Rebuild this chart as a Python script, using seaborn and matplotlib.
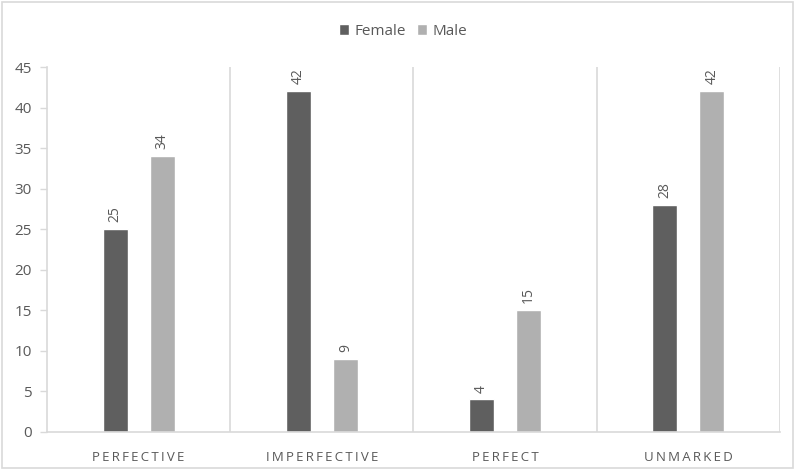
import matplotlib
matplotlib.use("Agg")
import matplotlib.pyplot as plt
from matplotlib.patches import Rectangle
import seaborn as sns
import pandas as pd

categories = ["PERFECTIVE", "IMPERFECTIVE", "PERFECT", "UNMARKED"]
female = [25, 42, 4, 28]
male = [34, 9, 15, 42]
series = ["Female", "Male"]
yticks = [0, 5, 10, 15, 20, 25, 30, 35, 40, 45]

df = pd.DataFrame({
    "category": categories * 2,
    "gender": [series[0]] * len(categories) + [series[1]] * len(categories),
    "count": female + male,
})

sns.set_theme(style="white")
plt.rcParams["font.family"] = ["Open Sans", "DejaVu Sans"]
text_color = "#595959"
line_color = "#d9d9d9"

fig = plt.figure(figsize=(7.95, 4.70), dpi=100)
ax = fig.add_axes([0.0591, 0.081, 0.922, 0.7764])

sns.barplot(data=df, x="category", y="count", hue="gender", order=categories,
            hue_order=series, palette=["#5f5f5f", "#b0b0b0"], width=0.512,
            gap=0.465, saturation=1, ax=ax, legend=True)

for cont in ax.containers:
    ax.bar_label(cont, rotation=90, padding=5, color=text_color, fontsize=10)

ax.set_xlim(-0.5, len(categories) - 0.5)
ax.set_ylim(0, 45)
ax.set_yticks(yticks)
ax.set_xlabel("")
ax.set_ylabel("")
ax.set_xticks(range(len(categories)))
ax.set_xticklabels(["\u2009".join(c) for c in categories])
ax.tick_params(axis="y", colors=line_color, labelcolor=text_color, labelsize=11,
               length=5, width=1, left=True, pad=6)
ax.tick_params(axis="x", labelcolor=text_color, labelsize=9.5, bottom=False, pad=8)

for side in ["top", "right"]:
    ax.spines[side].set_visible(False)
for side in ["left", "bottom"]:
    ax.spines[side].set_color(line_color)
    ax.spines[side].set_linewidth(1.2)

for b in range(1, len(categories) + 1):
    ax.axvline(b - 0.5, color=line_color, lw=1.2, zorder=0)

leg = ax.legend(loc="center", bbox_to_anchor=(0.507, 0.934), bbox_transform=fig.transFigure,
                ncol=2, frameon=False, fontsize=11, handlelength=0.7, handleheight=0.7,
                handletextpad=0.35, columnspacing=0.7)
for t in leg.get_texts():
    t.set_color(text_color)

fig.patches.append(Rectangle((0.003, 0.004), 0.994, 0.992, transform=fig.transFigure,
                             fill=False, edgecolor=line_color, lw=1.2))

fig.savefig("out.png", dpi=100)
